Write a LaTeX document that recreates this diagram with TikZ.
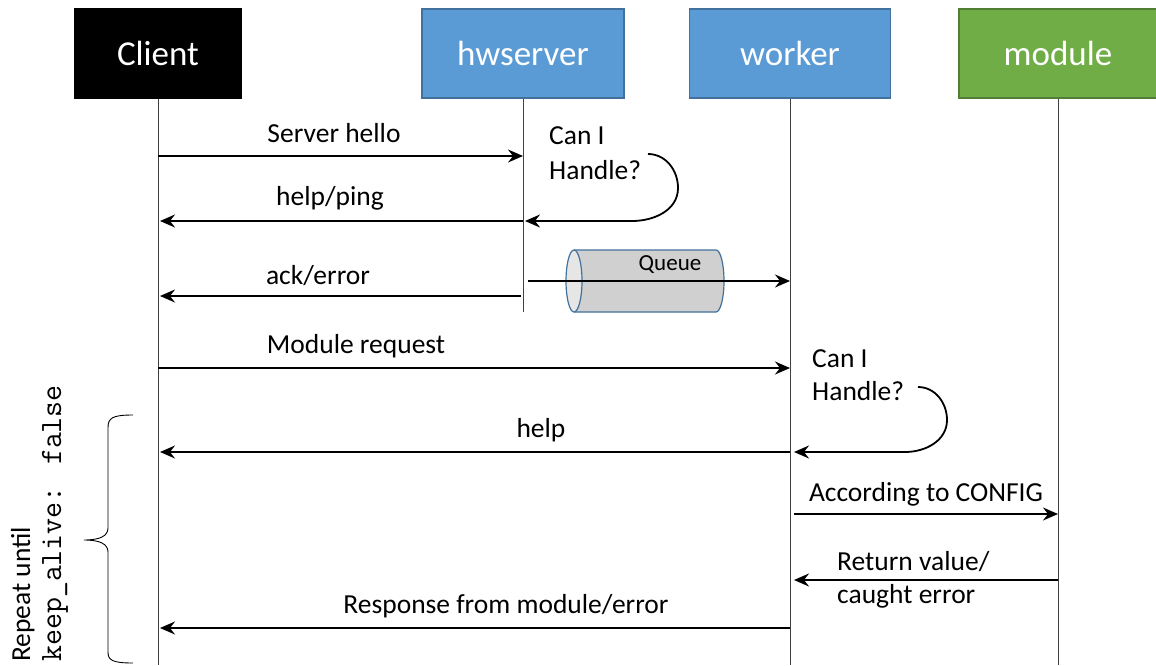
\documentclass[tikz,border=0pt]{standalone}
\usepackage{fontspec}
\setmainfont{Carlito}
\usetikzlibrary{arrows.meta}
\definecolor{hdrblue}{HTML}{5B9BD5}
\definecolor{hdrblueline}{HTML}{41719C}
\definecolor{hdrgreen}{HTML}{70AD47}
\definecolor{hdrgreenline}{HTML}{507E32}
\definecolor{queuefill}{HTML}{D0D0D0}
\definecolor{queuecap}{HTML}{E6E6E6}
\begin{document}
\begin{tikzpicture}[x=1pt,y=-1pt,
  actor/.style={minimum height=89pt, inner sep=0pt, text=white,
    font=\fontsize{35}{40}\selectfont, line width=1.2pt},
  life/.style={line width=0.9pt, draw=black!75},
  msg/.style={line width=1.8pt, -{Stealth[length=15pt,width=13pt,inset=5pt]}},
  lbl/.style={font=\fontsize{27.5}{33}\selectfont, anchor=base, inner sep=0pt},
  lblw/.style={lbl, anchor=base west},
]
\useasboundingbox (0,0) rectangle (1156,665);

% participants
\node[actor, fill=black, draw=black, minimum width=166pt] (client) at (158,53.5) {Client};
\node[actor, fill=hdrblue, draw=hdrblueline, minimum width=202pt] (hws) at (523,53.5) {hwserver};
\node[actor, fill=hdrblue, draw=hdrblueline, minimum width=201pt] (worker) at (790,53.5) {worker};
\node[actor, fill=hdrgreen, draw=hdrgreenline, minimum width=198pt] (module) at (1058,53.5) {module};

% lifelines
\coordinate (clientEnd) at (158,665);
\coordinate (hwsEnd) at (523,312);
\coordinate (workerEnd) at (790,665);
\coordinate (moduleEnd) at (1058,665);
\draw[life] (client.south) -- (clientEnd);
\draw[life] (hws.south) -- (hwsEnd);
\draw[life] (worker.south) -- (workerEnd);
\draw[life] (module.south) -- (moduleEnd);

% points on the lifelines
\coordinate (c1) at (158,156);  \coordinate (h1) at (523,156);
\coordinate (h2) at (523,221);  \coordinate (c2) at (160,221);
\coordinate (h3) at (521,296);  \coordinate (c3) at (160,296);
\coordinate (h4) at (528,281);  \coordinate (w4) at (790,281);
\coordinate (c5) at (158,368);  \coordinate (w5) at (790,368);
\coordinate (w6) at (790,452);  \coordinate (c6) at (160,452);
\coordinate (w7) at (794,514);  \coordinate (m7) at (1058,514);
\coordinate (m8) at (1058,580); \coordinate (w8) at (794,580);
\coordinate (w9) at (790,628);  \coordinate (c9) at (160,628);

% queue between hwserver and worker
\fill[queuefill] (574,250) -- (716,250) arc[start angle=-90, end angle=90, x radius=8, y radius=31] -- (574,312) -- cycle;
\draw[hdrblueline, line width=1.2pt] (574,250) -- (716,250) arc[start angle=-90, end angle=90, x radius=8, y radius=31] -- (574,312);
\filldraw[fill=queuecap, draw=hdrblueline, line width=1.2pt] (574,281) ellipse[x radius=8, y radius=31];
\node[font=\fontsize{23}{27}\selectfont, anchor=base, inner sep=0pt] (queue) at (670,270) {Queue};

% messages
\draw[msg] (c1) -- (h1);
\node[lbl] (t1) at (334,142) {Server hello};
\draw[msg] (h2) -- (c2);
\node[lbl] (t2) at (330,205) {help/ping};
\draw[msg] (h3) -- (c3);
\node[lbl] (t3) at (318,284) {ack/error};
\draw[msg] (h4) -- (w4);
\draw[msg] (c5) -- (w5);
\node[lbl] (t5) at (356,353) {Module request};
\draw[msg] (w6) -- (c6);
\node[lbl] (t6) at (541,437) {help};
\draw[msg] (w7) -- (m7);
\node[lbl] (t7) at (926,501) {According to CONFIG};
\draw[msg] (m8) -- (w8);
\node[lblw] (t8a) at (837,570) {Return value/};
\node[lblw] (t8b) at (837,603) {caught error};
\draw[msg] (w9) -- (c9);
\node[lbl] (t9) at (506,613) {Response from module/error};

% self checks
\node[lblw] (ch1a) at (549,144) {Can I};
\node[lblw] (ch1b) at (549,179) {Handle?};
\coordinate (s1) at (648,154);
\coordinate (s1b) at (678,188);
\coordinate (s1c) at (632,221);
\coordinate (s1e) at (525,221);
\draw[msg] (s1) to[out=0,in=90] (s1b) to[out=-90,in=0] (s1c) -- (s1e);

\node[lblw] (ch2a) at (812,367) {Can I};
\node[lblw] (ch2b) at (812,400) {Handle?};
\coordinate (s2) at (918,387);
\coordinate (s2b) at (947,420);
\coordinate (s2c) at (905,452);
\coordinate (s2e) at (794,452);
\draw[msg] (s2) to[out=0,in=90] (s2b) to[out=-90,in=0] (s2c) -- (s2e);

% repeat brace
\draw[line width=0.9pt] (133,415) .. controls (112,415) and (108,418) .. (108,428)
  -- (108,528) .. controls (108,536) and (100,540) .. (84,540)
  .. controls (100,540) and (108,544) .. (108,552)
  -- (108,652) .. controls (108,660) and (112,663) .. (133,663);
\node[font=\fontsize{27.5}{33}\selectfont, rotate=90, anchor=base west, inner sep=0pt] (rep) at (30,662) {Repeat until};
\node[font=\fontsize{31}{36}\ttfamily, rotate=90, anchor=base west, inner sep=0pt] (keep) at (61,662) {keep\_alive: false};
\end{tikzpicture}
\end{document}
